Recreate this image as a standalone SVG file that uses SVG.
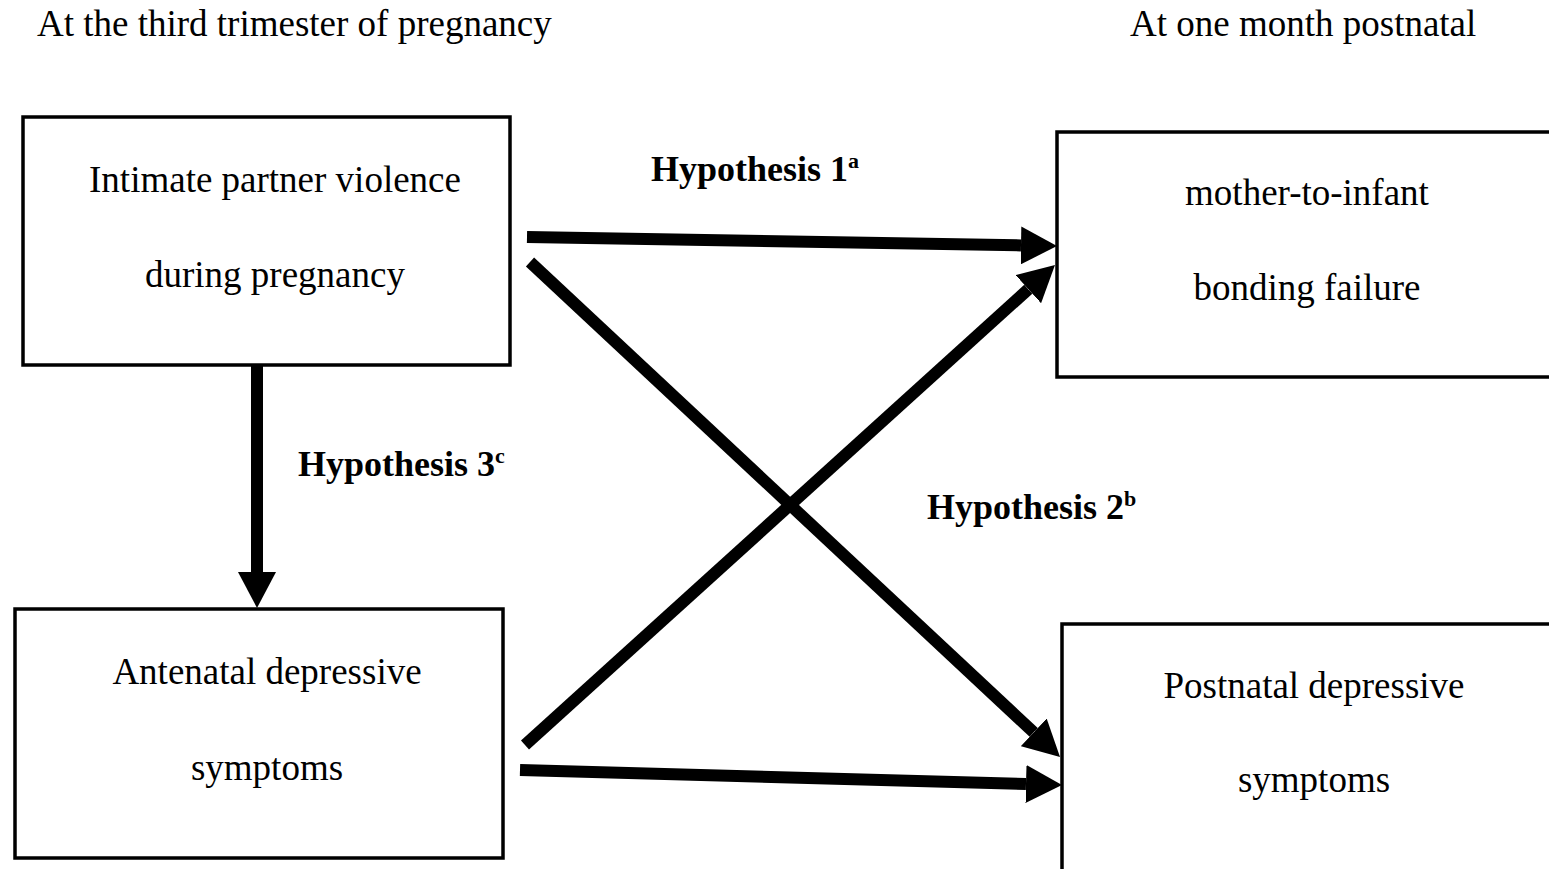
<svg xmlns="http://www.w3.org/2000/svg" width="1549" height="869" viewBox="0 0 1549 869">
<defs>
<style>
.box{fill:#fff;stroke:#000;stroke-width:3.5}
.t{font-family:"Liberation Serif","Times New Roman",serif;font-size:37px;fill:#000}
.c{text-anchor:middle}
.b{font-weight:bold;font-size:36px}
.sup{font-size:22px}
.conn{stroke:#000;stroke-width:12;fill:none;marker-end:url(#ah)}
</style>
<marker id="ah" viewBox="0 0 36 38" refX="0" refY="19" markerWidth="36" markerHeight="38" markerUnits="userSpaceOnUse" orient="auto">
<path d="M0,0 L36,19 L0,38 z" fill="#000"/>
</marker>
</defs>
<rect width="1549" height="869" fill="#fff"/>
<text class="t" x="37" y="36">At the third trimester of pregnancy</text>
<text class="t" x="1130" y="36">At one month postnatal</text>
<g id="ipv">
<rect class="box" x="23" y="117" width="487" height="248"/>
<text class="t c" x="275" y="192">Intimate partner violence</text>
<text class="t c" x="275" y="287">during pregnancy</text>
</g>
<g id="antenatal">
<rect class="box" x="15" y="609" width="488" height="249"/>
<text class="t c" x="267" y="684">Antenatal depressive</text>
<text class="t c" x="267" y="780">symptoms</text>
</g>
<g id="bonding">
<rect class="box" x="1057" y="132" width="510" height="245"/>
<text class="t c" x="1307" y="205">mother-to-infant</text>
<text class="t c" x="1307" y="300">bonding failure</text>
</g>
<g id="postnatal">
<rect class="box" x="1062" y="624" width="510" height="260"/>
<text class="t c" x="1314" y="698">Postnatal depressive</text>
<text class="t c" x="1314" y="792">symptoms</text>
</g>
<g id="connectors">
<line class="conn" x1="527" y1="237" x2="1021" y2="245.4"/>
<line class="conn" x1="530" y1="262" x2="1033.7" y2="732.4"/>
<line class="conn" x1="525" y1="745" x2="1028.3" y2="289.2"/>
<line class="conn" x1="520" y1="770" x2="1026" y2="784"/>
<line class="conn" x1="257" y1="365" x2="257" y2="572"/>
</g>
<g id="labels">
<text class="t b" x="651" y="181">Hypothesis 1<tspan class="sup" dy="-13">a</tspan></text>
<text class="t b" x="298" y="476">Hypothesis 3<tspan class="sup" dy="-13">c</tspan></text>
<text class="t b" x="927" y="519">Hypothesis 2<tspan class="sup" dy="-13">b</tspan></text>
</g>
</svg>
